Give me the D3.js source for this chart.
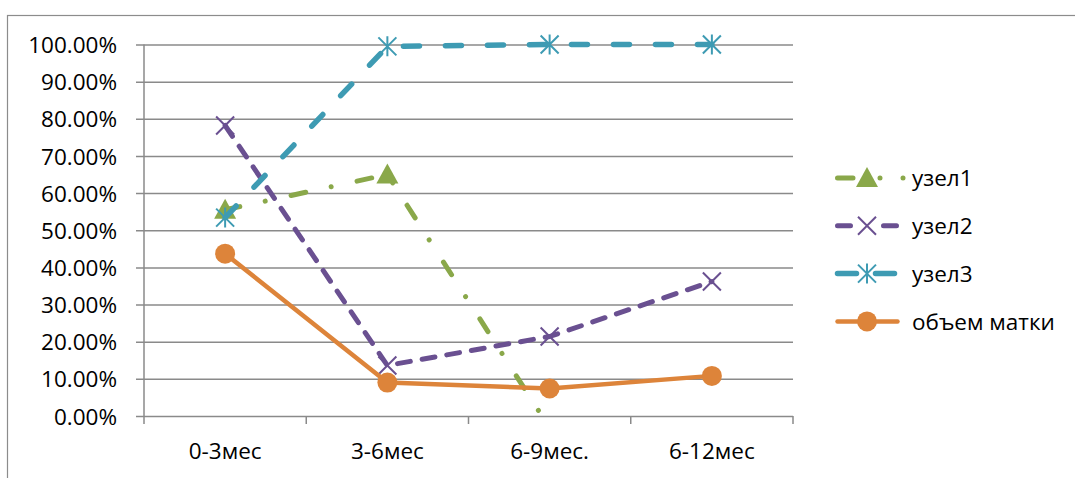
<!DOCTYPE html>
<html>
<head>
<meta charset="utf-8">
<script src="https://cdn.jsdelivr.net/npm/d3@7"></script>
<style>
  html, body { margin: 0; padding: 0; background: #fff; }
  svg { display: block; font-family: "Open Sans", "Noto Sans", sans-serif; }
</style>
</head>
<body>
<svg id="chart" width="1075" height="478"></svg>
<script>
// Follow-up periods and share values per series
const categories = ["0-3мес", "3-6мес", "6-9мес.", "6-12мес"];
const seriesNames = ["узел1", "узел2", "узел3", "объем матки"];
const uzel1 = [0.555, 0.65, -0.032, null];
const uzel2 = [0.782, 0.136, 0.214, 0.362];
const uzel3 = [0.534, 0.995, 1.0, 1.0];
const uterusVolume = [0.437, 0.09, 0.074, 0.108];
const yTicks = [0, 0.1, 0.2, 0.3, 0.4, 0.5, 0.6, 0.7, 0.8, 0.9, 1.0];

const series = [
  { name: seriesNames[0], values: uzel1, color: "#8aa84a", width: 5, dash: "15,26,0.01,26.5",
    legendDash: "15.5,27,0.01,23,0.01,60", marker: "triangle" },
  { name: seriesNames[1], values: uzel2, color: "#6a5091", width: 5, dash: "13,12",
    legendDash: "13,33", marker: "cross" },
  { name: seriesNames[2], values: uzel3, color: "#3e9bb3", width: 5.5, dash: "16,26",
    legendDash: "19,19", marker: "star" },
  { name: seriesNames[3], values: uterusVolume, color: "#dd843a", width: 4.5, dash: null,
    legendDash: null, marker: "circle" }
];

const svg = d3.select("#chart");
const plotLeft = 144, plotRight = 793, plotTop = 44.5, plotBottom = 416;

const x = d3.scaleBand().domain(categories).range([plotLeft, plotRight]).padding(0);
const cx = d => x(d) + x.bandwidth() / 2;
const y = d3.scaleLinear().domain([0, 1]).range([plotBottom, plotTop]);

// Outer chart frame
svg.append("rect")
  .attr("x", 7.5).attr("y", 15.5).attr("width", 1200).attr("height", 600)
  .attr("fill", "none").attr("stroke", "#8c8c8c").attr("stroke-width", 1.2);

// Horizontal gridlines + left ticks + labels via axis
const yAxis = svg.append("g")
  .attr("transform", `translate(${plotLeft},0)`)
  .call(d3.axisLeft(y).tickValues(yTicks).tickFormat(d3.format(".2%"))
    .tickSize(8).tickPadding(19));
yAxis.select(".domain").remove();
yAxis.selectAll(".tick line")
  .attr("x2", -8).attr("x1", plotRight - plotLeft)
  .attr("stroke", "#8a8a8a").attr("stroke-width", 1.5);
yAxis.selectAll(".tick text")
  .attr("fill", "#000").attr("font-size", 22.5)
  .attr("font-family", "'Open Sans', sans-serif")
  .attr("dy", "0.36em");

// Vertical axis line
svg.append("line")
  .attr("x1", plotLeft).attr("x2", plotLeft).attr("y1", plotTop).attr("y2", plotBottom + 8)
  .attr("stroke", "#8a8a8a").attr("stroke-width", 1.5);

// Category boundary ticks
const edges = categories.map(c => x(c)).concat([plotRight]);
svg.append("g").selectAll("line").data(edges.slice(1)).join("line")
  .attr("x1", d => d).attr("x2", d => d)
  .attr("y1", plotBottom).attr("y2", plotBottom + 8)
  .attr("stroke", "#8a8a8a").attr("stroke-width", 1.5);

// Category labels
svg.append("g").selectAll("text").data(categories).join("text")
  .attr("x", d => cx(d)).attr("y", 459)
  .attr("text-anchor", "middle")
  .attr("font-size", 22.5).attr("fill", "#000")
  .text(d => d);

// Marker shapes
function drawMarker(g, type, color, px, py) {
  if (type === "triangle") {
    g.append("path")
      .attr("d", `M${px},${py - 11}L${px + 11},${py + 9}L${px - 11},${py + 9}Z`)
      .attr("fill", color);
  } else if (type === "cross") {
    const s = 9;
    g.append("path")
      .attr("d", `M${px - s},${py - s}L${px + s},${py + s}M${px - s},${py + s}L${px + s},${py - s}`)
      .attr("stroke", color).attr("stroke-width", 2).attr("fill", "none");
  } else if (type === "star") {
    const s = 9;
    g.append("path")
      .attr("d", `M${px - s},${py - s}L${px + s},${py + s}M${px - s},${py + s}L${px + s},${py - s}M${px},${py - s - 1}L${px},${py + s + 1}`)
      .attr("stroke", color).attr("stroke-width", 2).attr("fill", "none");
  } else if (type === "circle") {
    g.append("circle").attr("cx", px).attr("cy", py).attr("r", 10).attr("fill", color);
  }
}

// Plot clip region
svg.append("defs").append("clipPath").attr("id", "plotClip")
  .append("rect").attr("x", plotLeft - 20).attr("y", plotTop - 20)
  .attr("width", plotRight - plotLeft + 40).attr("height", plotBottom - plotTop + 20);

const plot = svg.append("g").attr("clip-path", "url(#plotClip)");
const line = d3.line()
  .defined(d => d.v !== null)
  .x(d => cx(d.c)).y(d => y(d.v));

series.forEach(s => {
  const pts = categories.map((c, i) => ({ c, v: s.values[i] }));
  const g = plot.append("g");
  g.append("path")
    .datum(pts)
    .attr("d", line)
    .attr("fill", "none")
    .attr("stroke", s.color)
    .attr("stroke-width", s.width)
    .attr("stroke-linecap", s.dash ? "round" : "butt")
    .attr("stroke-linejoin", "round")
    .attr("stroke-dasharray", s.dash);
  pts.filter(p => p.v !== null && p.v >= 0 && p.v <= 1)
    .forEach(p => drawMarker(g, s.marker, s.color, cx(p.c), y(p.v)));
});

// Legend
const legend = svg.append("g");
series.forEach((s, i) => {
  const ly = 178 + i * 47.8;
  const g = legend.append("g");
  g.append("line")
    .attr("x1", 837.5).attr("x2", s.marker === "triangle" ? 904 : 897.5)
    .attr("y1", ly).attr("y2", ly)
    .attr("stroke", s.color).attr("stroke-width", s.width)
    .attr("stroke-linecap", "round")
    .attr("stroke-dasharray", s.legendDash);
  drawMarker(g, s.marker, s.color, 867, ly);
  g.append("text")
    .attr("x", 912).attr("y", ly).attr("dy", "0.36em")
    .attr("font-size", 22.5).attr("fill", "#000")
    .text(s.name);
});
</script>
</body>
</html>
